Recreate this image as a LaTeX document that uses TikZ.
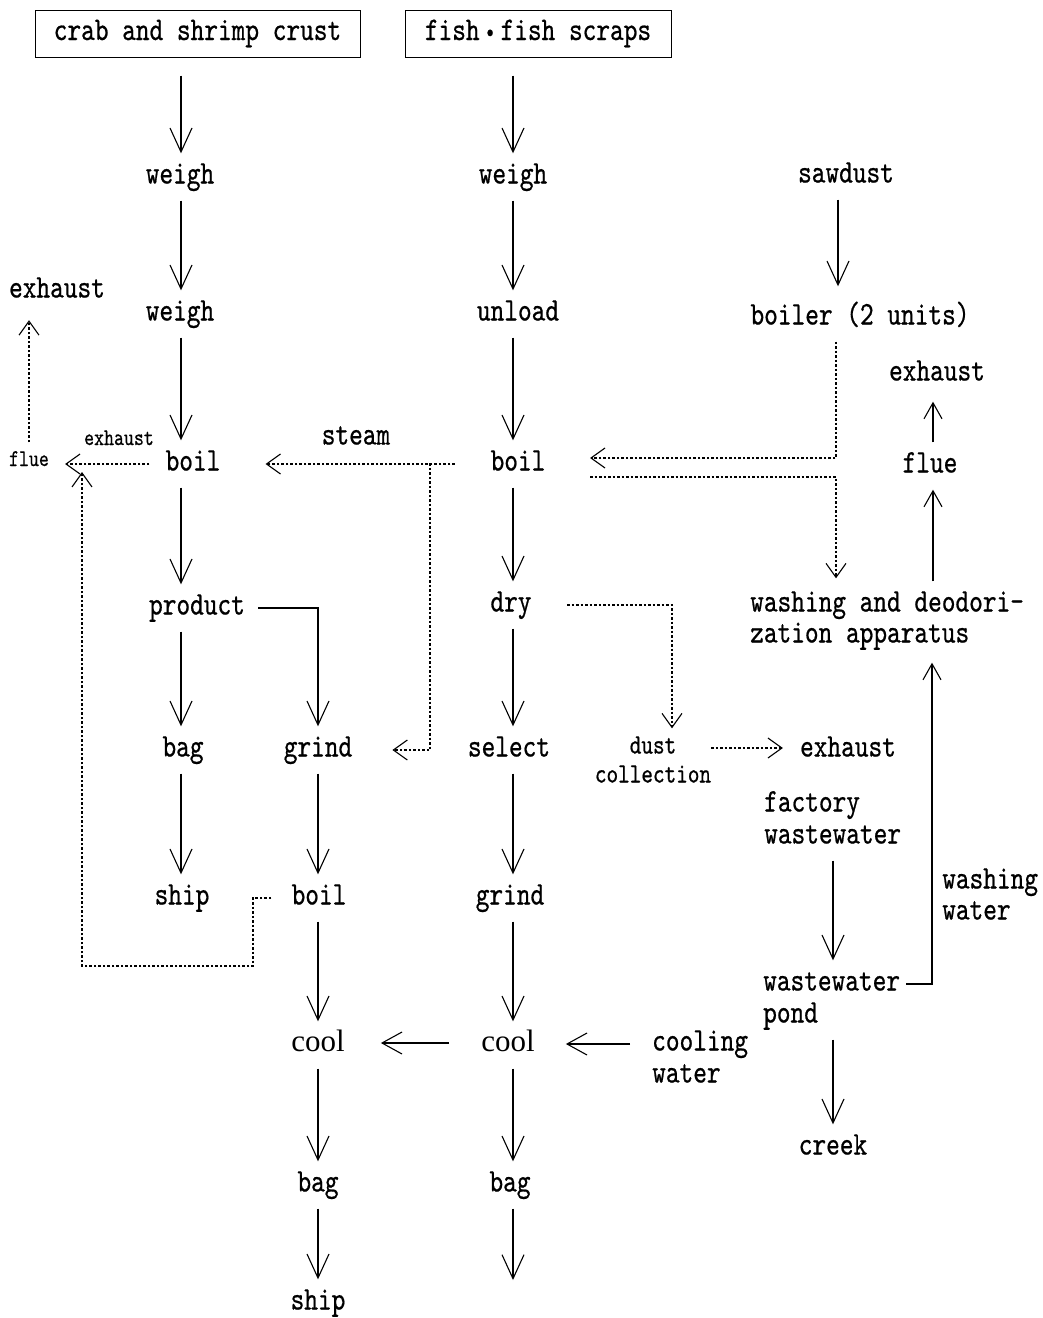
\documentclass[tikz,border=0pt]{standalone}
\usepackage{fontspec}
\newfontfamily\mono{lmmono10-regular}[Extension=.otf, FakeStretch=0.79, FakeBold=0.6]
\newfontfamily\coolfont{Liberation Serif}
\usetikzlibrary{arrows.meta}

\tikzset{
  lbl/.style={font=\mono\fontsize{33}{32}\selectfont, text height=19pt, text depth=6pt, inner xsep=6pt, inner ysep=11pt},
  lblsmall/.style={font=\mono\fontsize{28}{29}\selectfont, text height=16pt, text depth=5pt, inner xsep=6pt, inner ysep=9pt},
  lbltiny/.style={font=\mono\fontsize{24}{26}\selectfont, text height=14pt, text depth=4pt, inner xsep=6pt, inner ysep=9.5pt},
  lblroman/.style={lbl, font=\coolfont\fontsize{31}{32}\selectfont},
  srcbox/.style={draw, line width=1pt, font=\mono\fontsize{33}{32}\selectfont, text height=19pt, text depth=6pt, inner sep=0pt, minimum height=47pt},
  flow/.style={line width=1.1pt, -{Straight Barb[length=24pt,width=22pt,line width=1.1pt]}},
  flowh/.style={line width=1.1pt, -{Straight Barb[length=20pt,width=22pt,line width=1.1pt]}},
  flowsm/.style={line width=1.1pt, -{Straight Barb[length=16pt,width=18pt,line width=1.1pt]}},
  gas/.style={line width=1.4pt, dash pattern=on 2.5pt off 2pt, -{Straight Barb[length=14pt,width=20pt,line width=1.1pt]}},
}

\begin{document}
\begin{tikzpicture}[x=1pt,y=-1pt]
\useasboundingbox[fill=white] (0,0) rectangle (1043,1318);

% column guides for the vertical flow lines
\coordinate (cA) at (181,0);
\coordinate (cB) at (318,0);
\coordinate (cC) at (513,0);
\coordinate (cS) at (838,0);
\coordinate (cG) at (836,0);
\coordinate (cD) at (672,0);
\coordinate (cW) at (833,0);
\coordinate (cF) at (933,0);
\coordinate (cR) at (932,0);
\coordinate (cL) at (29,0);

% raw materials
\node[srcbox, minimum width=325pt] (crab) at (197.5,33.5) {crab and shrimp crust};
\node[srcbox, minimum width=266pt] (fish) at (538,33.5) {fish\,\raisebox{1.5pt}{\fontsize{24}{24}\selectfont\textbullet}\,fish scraps};

% crab and shrimp line
\node[lbl] (weighA) at (180,177) {weigh};
\node[lbl] (weighB) at (180,314) {weigh};
\node[lbl] (boilA) at (193,464) {boil};
\node[lbl] (product) at (197,608) {product};
\node[lbl] (bagA) at (183,750) {bag};
\node[lbl] (shipA) at (182,898) {ship};

\node[lbl] (grindA) at (318,750) {grind};
\node[lbl] (boilB) at (319,898) {boil};
\node[lblroman] (coolA) at (318,1045) {cool};
\node[lbl] (bagB) at (318,1185) {bag};
\node[lbl] (shipB) at (318,1303) {ship};

% fish line
\node[lbl] (weighC) at (513,177) {weigh};
\node[lbl] (unload) at (518,314) {unload};
\node[lbl] (boilC) at (518,464) {boil};
\node[lbl] (dry) at (511,605) {dry};
\node[lbl] (select) at (509,750) {select};
\node[lbl] (grindC) at (510,898) {grind};
\node[lblroman] (coolC) at (508,1045) {cool};
\node[lbl] (bagC) at (510,1185) {bag};
\coordinate (outC) at (513,1280);

% boiler, gas treatment and water
\node[lbl] (sawdust) at (846,176) {sawdust};
\node[lbl] (boiler) at (860,318) {boiler (2 units)};
\node[lbl, anchor=west] (wash1) at (744,605) {washing and deodori-};
\node[lbl, anchor=west] (wash2) at (744,636) {zation apparatus};
\node[lbl] (flueR) at (930,466) {flue};
\node[lbl] (exhaustR) at (937,374) {exhaust};
\node[lblsmall] (dust1) at (653,748) {dust};
\node[lblsmall] (dust2) at (653,777) {collection};
\node[lbl] (exhaustM) at (848,750) {exhaust};
\node[lbl, anchor=west] (fac1) at (758,805) {factory};
\node[lbl, anchor=west] (fac2) at (758,837) {wastewater};
\node[lbl, anchor=west] (pond1) at (757,984) {wastewater};
\node[lbl, anchor=west] (pond2) at (757,1016) {pond};
\node[lbl, anchor=west] (wwat1) at (936,882) {washing};
\node[lbl, anchor=west] (wwat2) at (936,913) {water};
\node[lbl] (creek) at (833,1148) {creek};
\node[lbl, anchor=west] (cw1) at (646,1044) {cooling};
\node[lbl, anchor=west] (cw2) at (646,1076) {water};

% steam and flue gas labels
\node[lbl] (steam) at (356,438) {steam};
\node[lbl] (exhaustTL) at (57,291) {exhaust};
\node[lbltiny] (flueL) at (29,461) {flue};
\node[lbltiny] (exhaustS) at (119,440) {exhaust};

% main flow, crab and shrimp
\draw[flow, shorten <=18pt] (cA |- crab.south) -- (cA |- weighA.north);
\draw[flow] (cA |- weighA.south) -- (cA |- weighB.north);
\draw[flow] (cA |- weighB.south) -- (cA |- boilA.north);
\draw[flow] (cA |- boilA.south) -- (cA |- product.north);
\draw[flow] (cA |- product.south) -- (cA |- bagA.north);
\draw[flow] (cA |- bagA.south) -- (cA |- shipA.north);
\draw[flow, shorten <=7pt] (product.east) -| (grindA.north);
\draw[flow] (cB |- grindA.south) -- (cB |- boilB.north);
\draw[flow] (cB |- boilB.south) -- (cB |- coolA.north);
\draw[flow] (cB |- coolA.south) -- (cB |- bagB.north);
\draw[flow] (cB |- bagB.south) -- (cB |- shipB.north);

% main flow, fish
\draw[flow, shorten <=18pt] (cC |- fish.south) -- (cC |- weighC.north);
\draw[flow] (cC |- weighC.south) -- (cC |- unload.north);
\draw[flow] (cC |- unload.south) -- (cC |- boilC.north);
\draw[flow] (cC |- boilC.south) -- (cC |- dry.north);
\draw[flow] (cC |- dry.south) -- (cC |- select.north);
\draw[flow] (cC |- select.south) -- (cC |- grindC.north);
\draw[flow] (cC |- grindC.south) -- (cC |- coolC.north);
\draw[flow] (cC |- coolC.south) -- (cC |- bagC.north);
\draw[flow] (cC |- bagC.south) -- (outC);

% cooling water
\draw[flowh, shorten <=16pt, shorten >=25pt] (cw1.west) -- (cw1.west -| coolC.east);
\draw[flowh, shorten <=26pt, shorten >=30pt] ([yshift=2pt]coolC.west) -- ([yshift=2pt]coolA.east);

% boiler
\draw[flow, shorten >=8pt] (cS |- sawdust.south) -- (cS |- boiler.north);

% steam supply
\draw[gas, shorten >=38.5pt] (cG |- boiler.south) |- ([yshift=6pt]boilC.east);
\coordinate (steamsplit) at (430,463);
\draw[gas, shorten <=29.5pt, shorten >=39pt] (boilC.west) -- (boilA.east);
\draw[gas, shorten >=34pt] (steamsplit) |- (grindA.east);

% off-gas to washing and deodorization
\draw[gas, shorten >=3pt] ([xshift=38.5pt,yshift=-13pt]boilC.east) -| (cG |- wash1.north);
\draw[flowsm] (cF |- wash1.north) -- (cF |- flueR.south);
\draw[flowsm, shorten >=4pt] (cF |- flueR.north) -- (cF |- exhaustR.south);

% dust collection
\draw[gas, shorten <=29.5pt] (dry.east) -| (cD |- dust1.north);
\draw[gas, shorten <=29pt, shorten >=11pt] (dust1.east) -- (dust1.east -| exhaustM.west);

% wastewater
\draw[flow] (cW |- fac2.south) -- (cW |- pond1.north);
\draw[flow] (cW |- pond2.south) -- (cW |- creek.north);
\draw[flowsm, shorten >=3pt] (pond1.east) -| (cR |- wash2.south);

% flue gas from the shell boiling
\draw[gas, shorten <=10pt, shorten >=10pt] (boilA.west) -- (boilA.west -| flueL.east);
\draw[gas, shorten >=5.5pt] (cL |- flueL.north) -- (cL |- exhaustTL.south);
\coordinate (loopA) at (253,966);
\coordinate (loopB) at (82,966);
\coordinate (loopEnd) at (82,472);
\draw[gas, shorten <=14pt] (boilB.west) -| (loopA) -- (loopB) -- (loopEnd);
\end{tikzpicture}
\end{document}
